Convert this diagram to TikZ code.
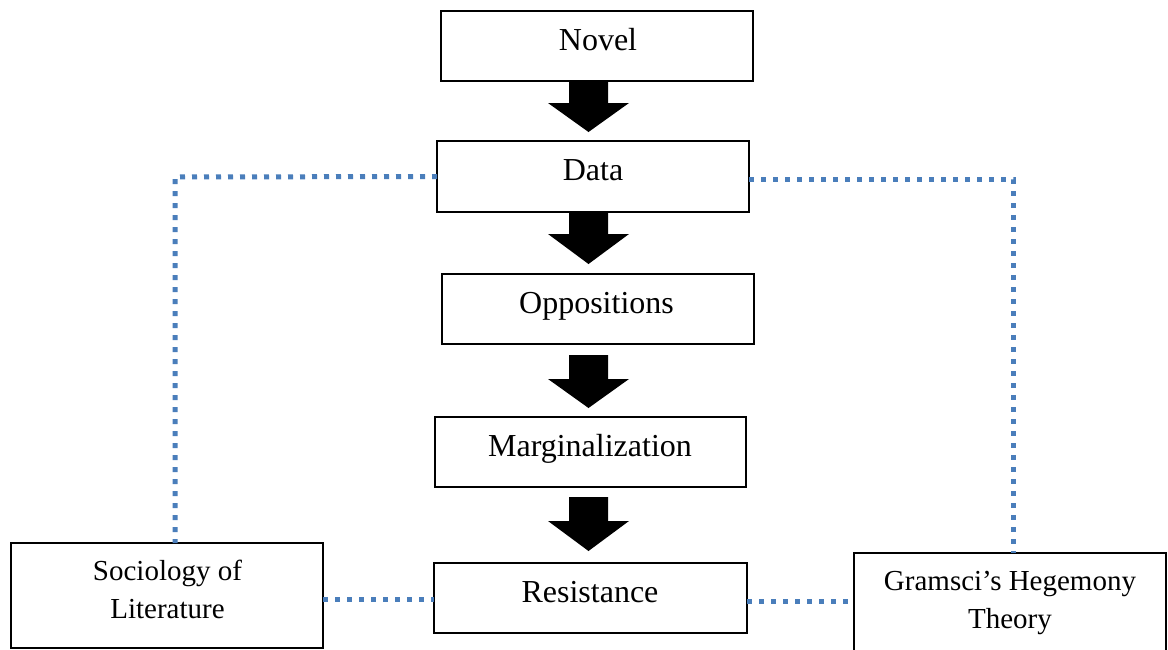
\documentclass[tikz,border=0pt]{standalone}
\usepackage{fontspec}
\setmainfont{Liberation Serif}
\usetikzlibrary{calc}
\definecolor{dotblue}{RGB}{74,126,187}
\tikzset{
  boxnode/.style={draw=black, line width=1.2pt, inner sep=0pt, outer sep=0pt, fill=white},
  mainlbl/.style={font=\fontsize{32}{38}\selectfont, inner sep=0pt, anchor=base},
  sidelbl/.style={font=\fontsize{29}{38}\selectfont, inner sep=0pt, anchor=base, align=center},
  dotline/.style={draw=dotblue, line width=5pt, dash pattern=on 5pt off 7pt},
  fatarrow/.style={fill=black}
}
\newcommand\blockarr[5]{% x, top, base, tip, name
  \fill[fatarrow] (#1-19.5,#2) -- (#1+19.5,#2) -- (#1+19.5,#3) -- (#1+40.5,#3)
    -- (#1,#4) -- (#1-40.5,#3) -- (#1-19.5,#3) -- cycle;
  \coordinate (#5) at (#1,#4);
}
\begin{document}
\begin{tikzpicture}[x=1pt,y=-1pt]
\useasboundingbox (0,0) rectangle (1168,649);
\fill[white] (0,0) rectangle (1168,649);

% boxes that the dotted connectors join
\node[boxnode, minimum width=312pt, minimum height=71pt] (data) at (593,176.5) {};
\node[boxnode, minimum width=312pt, minimum height=105pt] (soc) at (167,595.5) {};
\node[boxnode, minimum width=312pt, minimum height=112pt] (gram) at (1010,609) {};
\node[boxnode, minimum width=313pt, minimum height=70pt] (res) at (590.5,598) {};
\coordinate (lc) at (175,177);
\coordinate (rc) at (1013,179);

\draw[dotline] (data.west) -- (lc) -- (lc |- soc.north);
\draw[dotline] (data.east |- rc) -- (rc) -- (rc |- gram.north);
\draw[dotline] (soc.east |- 0,599) -- (res.west |- 0,599);
\draw[dotline] (res.east |- 0,601) -- (gram.west |- 0,601);

% other boxes
\node[boxnode, minimum width=312pt, minimum height=70pt] (novel) at (597,46) {};
\node[boxnode, minimum width=312pt, minimum height=70pt] (opp) at (598,309) {};
\node[boxnode, minimum width=311pt, minimum height=70pt] (marg) at (590.5,452) {};

% block arrows
\blockarr{588.5}{81}{103}{132}{a1}
\blockarr{588.5}{212}{234}{264}{a2}
\blockarr{588.5}{355}{379}{408}{a3}
\blockarr{588.5}{497}{521}{551}{a4}

% labels
\node[mainlbl] (tnovel) at (598,50) {Novel};
\node[mainlbl] (tdata) at (593,180) {Data};
\node[mainlbl] (topp) at (596.5,313) {Oppositions};
\node[mainlbl] (tmarg) at (590,456) {Marginalization};
\node[mainlbl] (tres) at (590,602) {Resistance};
\node[sidelbl] (tsoc) at (167.5,618) {Sociology of\\Literature};
\node[sidelbl] (tgram) at (1010,628) {Gramsci’s Hegemony\\Theory};
\end{tikzpicture}
\end{document}
